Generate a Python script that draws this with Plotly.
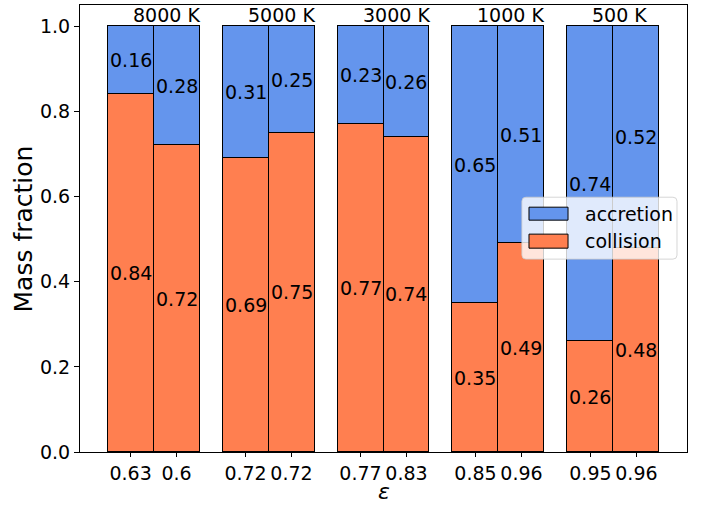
import plotly.graph_objects as go

# Temperature groups and the two bars (epsilon values) in each group
temperatures = ["8000 K", "5000 K", "3000 K", "1000 K", "500 K"]
epsilon_labels = ["0.63", "0.6", "0.72", "0.72", "0.77", "0.83", "0.85", "0.96", "0.95", "0.96"]

# Mass fractions per bar
collision = [0.84, 0.72, 0.69, 0.75, 0.77, 0.74, 0.35, 0.49, 0.26, 0.48]
accretion = [0.16, 0.28, 0.31, 0.25, 0.23, 0.26, 0.65, 0.51, 0.74, 0.52]

BLUE = "#6495ED"
CORAL = "#FF7F50"
FONT = "DejaVu Sans"
FS = 19
BAR_W = 0.4

# bar centres: two bars per temperature group
x_pos = [g + off for g in range(len(temperatures)) for off in (-BAR_W / 2, BAR_W / 2)]

fig = go.Figure()
fig.add_trace(go.Bar(
    x=x_pos, y=collision, width=BAR_W, name="collision",
    marker=dict(color=CORAL, line=dict(color="black", width=1)),
    showlegend=False, hoverinfo="skip",
))
fig.add_trace(go.Bar(
    x=x_pos, y=accretion, width=BAR_W, name="accretion",
    marker=dict(color=BLUE, line=dict(color="black", width=1)),
    showlegend=False, hoverinfo="skip",
))

annotations = []
# segment value labels, centred in each segment
for x, c, a in zip(x_pos, collision, accretion):
    annotations.append(dict(x=x, y=c / 2, text=f"{c:.2f}", showarrow=False,
                            font=dict(family=FONT, size=FS, color="black")))
    annotations.append(dict(x=x, y=c + a / 2, text=f"{a:.2f}", showarrow=False,
                            font=dict(family=FONT, size=FS, color="black")))

# temperature label above each group
for g, t in enumerate(temperatures):
    annotations.append(dict(x=g - BAR_W / 2, y=1.026, text=t, showarrow=False,
                            xanchor="left", yanchor="middle",
                            font=dict(family=FONT, size=FS, color="black")))

# axis titles
annotations.append(dict(x=0.5, y=-0.1196, xref="paper", yref="paper", text="<i>ε</i>",
                        showarrow=False, xanchor="center", yanchor="bottom", borderpad=0,
                        font=dict(family=FONT, size=22, color="black")))
annotations.append(dict(x=-0.0923, y=0.5, xref="paper", yref="paper", text="Mass fraction",
                        showarrow=False, xanchor="center", yanchor="middle", textangle=-90,
                        font=dict(family=FONT, size=25, color="black")))

# legend box (paper coordinates)
lx0, lx1, ly0, ly1 = 0.728, 0.9835, 0.4315, 0.570
rx, ry = 4 / 607, 4 / 447.3
legend_path = (
    f"M {lx0 + rx},{ly0} L {lx1 - rx},{ly0} Q {lx1},{ly0} {lx1},{ly0 + ry} "
    f"L {lx1},{ly1 - ry} Q {lx1},{ly1} {lx1 - rx},{ly1} "
    f"L {lx0 + rx},{ly1} Q {lx0},{ly1} {lx0},{ly1 - ry} "
    f"L {lx0},{ly0 + ry} Q {lx0},{ly0} {lx0 + rx},{ly0} Z"
)
shapes = [
    dict(type="path", path=legend_path, xref="paper", yref="paper", layer="above",
         fillcolor="rgba(255,255,255,0.8)", line=dict(color="rgba(204,204,204,0.8)", width=1)),
    dict(type="rect", xref="paper", yref="paper", layer="above",
         x0=0.7397, x1=0.8040, y0=0.5187, y1=0.5477,
         fillcolor=BLUE, line=dict(color="black", width=1)),
    dict(type="rect", xref="paper", yref="paper", layer="above",
         x0=0.7397, x1=0.8040, y0=0.456, y1=0.4874,
         fillcolor=CORAL, line=dict(color="black", width=1)),
]
annotations.append(dict(x=0.8287, y=0.5330, xref="paper", yref="paper", text="accretion",
                        showarrow=False, xanchor="left", yanchor="middle",
                        font=dict(family=FONT, size=FS, color="black")))
annotations.append(dict(x=0.8287, y=0.4717, xref="paper", yref="paper", text="collision",
                        showarrow=False, xanchor="left", yanchor="middle",
                        font=dict(family=FONT, size=FS, color="black")))

fig.update_layout(
    width=708, height=506,
    margin=dict(l=80, r=21, t=5, b=54),
    barmode="stack",
    bargap=0,
    plot_bgcolor="white",
    paper_bgcolor="white",
    font=dict(family=FONT, size=FS, color="black"),
    annotations=annotations,
    shapes=shapes,
    xaxis=dict(
        range=[-0.64, len(temperatures) - 1 + 0.64],
        tickmode="array", tickvals=x_pos, ticktext=epsilon_labels,
        ticks="outside", ticklen=4, tickwidth=1, tickcolor="black",
        showline=True, linecolor="black", linewidth=1, mirror=True,
        showgrid=False, zeroline=False, automargin=False,
        tickfont=dict(family=FONT, size=FS, color="black"),
    ),
    yaxis=dict(
        range=[0, 1.05],
        tickmode="array", tickvals=[0, 0.2, 0.4, 0.6, 0.8, 1.0], tickformat=".1f",
        ticks="outside", ticklen=5, tickwidth=1, tickcolor="black",
        showline=True, linecolor="black", linewidth=1, mirror=True,
        showgrid=False, zeroline=False, automargin=False,
        tickfont=dict(family=FONT, size=FS, color="black"),
    ),
)

fig.write_html("out.html")
